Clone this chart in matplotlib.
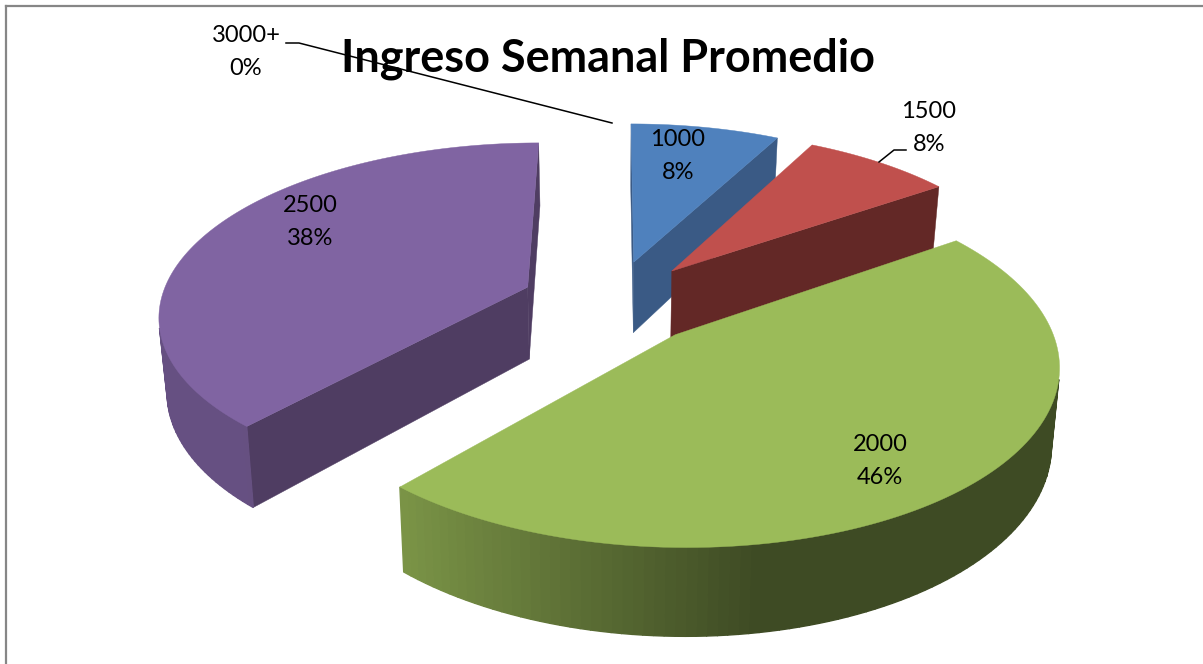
import numpy as np
import matplotlib
matplotlib.use("Agg")
import matplotlib.pyplot as plt

title = "Ingreso Semanal Promedio"
categories = ["1000", "1500", "2000", "2500", "3000+"]
values = [1, 1, 6, 5, 0]
top_colors = ["#4F81BD", "#C0504D", "#9BBB59", "#8064A2"]
cut_colors = ["#3A5A85", "#632826", "#3D4A20", "#4F3D62"]
label_pos = [(678, 156), (929, 128), (880, 461), (310, 222), (246, 52)]
draw_order = [3, 0, 1, 2]

# pie projection (pixels)
ox, oy = 612.5, 302
rx, ry = 367.5, 170
persp = 0.15
depth = 73
shrink = 0.018
explode = 0.25


def project(u, v, z):
    w = 1 + persp * v
    x = ox + rx * u / w * (1 + shrink * z)
    y = oy - (ry * v + depth * z) / w
    return x, y


def side_shade(deg):
    # light falloff round the rim, runs left to right on screen
    return np.interp(np.sin(np.radians(deg)), [-1, -0.67, 0.17, 1], [0.8, 0.8, 0.4, 0.4])


def darken(col, f):
    rgb = np.array(matplotlib.colors.to_rgb(col))
    return tuple(rgb * f)


def area(xs, ys):
    # signed area, y pointing down
    xs, ys = np.array(xs), np.array(ys)
    return np.sum(xs * np.roll(ys, -1) - np.roll(xs, -1) * ys)


fig = plt.figure(figsize=(12.03, 6.64), dpi=100)
ax = fig.add_axes([0, 0, 1, 1])
ax.set_xlim(0, 1203)
ax.set_ylim(664, 0)
ax.axis("off")

# chart frame
ax.plot([6, 6], [664, 6], color="#868686", lw=1.6)
ax.plot([6, 1203], [6, 6], color="#868686", lw=1.6)

total = sum(values)
edges = np.cumsum([0] + values) / total * 360

for i in draw_order:
    a0, a1 = edges[i], edges[i + 1]
    mid = np.radians((a0 + a1) / 2)
    cu, cv = explode * np.sin(mid), explode * np.cos(mid)
    th = np.radians(np.linspace(a0, a1, 121))
    us = cu + np.sin(th)
    vs = cv + np.cos(th)

    # flat cut faces, only the ones turned to the viewer
    for end, sign in ((0, -1), (-1, 1)):
        xs, ys = zip(project(cu, cv, 0), project(us[end], vs[end], 0),
                     project(us[end], vs[end], -1), project(cu, cv, -1))
        if area(xs, ys) * sign > 0:
            ax.fill(xs, ys, color=cut_colors[i], lw=0.3, zorder=2)

    # rim, one strip per step so the shading can run round it
    for k in range(len(th) - 1):
        xs, ys = zip(project(us[k], vs[k], 0), project(us[k + 1], vs[k + 1], 0),
                     project(us[k + 1], vs[k + 1], -1), project(us[k], vs[k], -1))
        if area(xs, ys) < 0:
            ax.fill(xs, ys, color=darken(top_colors[i], side_shade(np.degrees(th[k]))), lw=1.0, zorder=2)

    # top
    px, py = project(np.r_[cu, us], np.r_[cv, vs], 0)
    ax.fill(px, py, color=top_colors[i], lw=0.3, zorder=2)

for name, val, (lx, ly) in zip(categories, values, label_pos):
    pct = round(100 * val / total)
    ax.text(lx, ly, f"{name}\n{pct}%", ha="center", va="center", fontsize=17,
            family="Lato", color="black", linespacing=1.72, zorder=5)

# leader lines
ax.plot([286, 299, 612], [43, 43, 123], color="black", lw=1.1, zorder=4)
ax.plot([906, 894, 879], [150, 150, 162], color="black", lw=1.1, zorder=4)

ax.text(608, 59, title, ha="center", va="center", fontsize=32.4, fontweight="bold",
        family="Lato", color="black", zorder=6)

fig.savefig("out.png", dpi=100)
